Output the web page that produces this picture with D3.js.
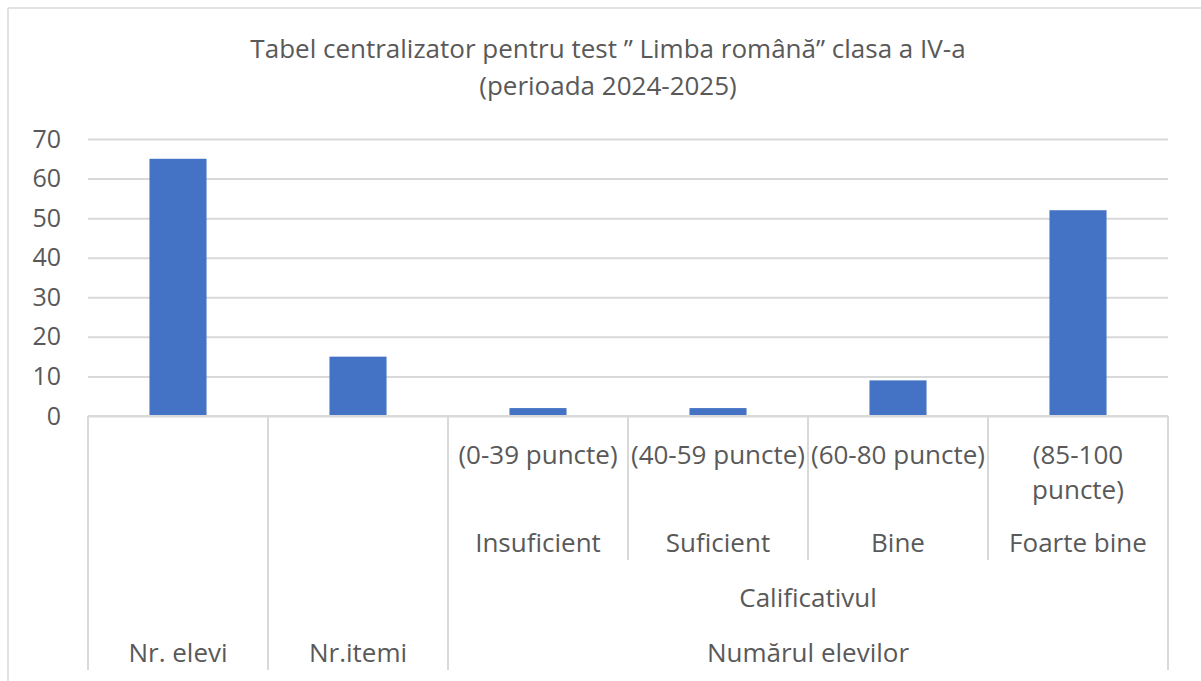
<!DOCTYPE html>
<html>
<head>
<meta charset="utf-8">
<script src="https://cdn.jsdelivr.net/npm/d3@7"></script>
<style>
  body { margin: 0; background: #fff; }
  svg text { font-family: "Open Sans", "Noto Sans", sans-serif; fill: #595959; }
</style>
</head>
<body>
<svg id="chart"></svg>
<script>
// date
let valori = [65, 15, 2, 2, 9, 52];
let puncte = ["", "", "(0-39 puncte)", "(40-59 puncte)", "(60-80 puncte)", "(85-100 puncte)"];
let calificative = ["", "", "Insuficient", "Suficient", "Bine", "Foarte bine"];
let grupCalificativ = ["Calificativul"];
let grupExterior = ["Nr. elevi", "Nr.itemi", "Numărul elevilor"];
let capeteExterior = [[0, 0], [1, 1], [2, 5]];
let yTicks = [0, 10, 20, 30, 40, 50, 60, 70];
let titlu = ["Tabel centralizator pentru test ” Limba română” clasa a IV-a", "(perioada 2024-2025)"];

let width = 1201;
let height = 681;
let plotLeft = 88, plotRight = 1168, plotTop = 139, plotBottom = 416;
let fs = 26;

let svg = d3.select("#chart")
    .attr("width", width)
    .attr("height", height);

// chenar
svg.append("line").attr("x1", 8).attr("x2", width).attr("y1", 8).attr("y2", 8)
    .attr("stroke", "#d9d9d9").attr("stroke-width", 1.5);
svg.append("line").attr("x1", 8).attr("x2", 8).attr("y1", 8).attr("y2", height)
    .attr("stroke", "#d9d9d9").attr("stroke-width", 1.5);

// titlu
svg.append("g").selectAll("text")
    .data(titlu)
    .enter().append("text")
    .attr("x", 608)
    .attr("y", (d, i) => 58 + i * 37)
    .attr("text-anchor", "middle")
    .attr("font-size", fs)
    .text(d => d);

let x = d3.scaleBand()
    .domain(d3.range(valori.length))
    .range([plotLeft, plotRight])
    .paddingInner(0.683)
    .paddingOuter(0.3415);

let y = d3.scaleLinear()
    .domain([0, 70])
    .range([plotBottom, plotTop]);

// grila
let yAxis = svg.append("g")
    .attr("transform", "translate(" + plotLeft + ",0)")
    .call(d3.axisLeft(y).tickValues(yTicks).tickSize(-(plotRight - plotLeft)).tickPadding(27));
yAxis.select(".domain").remove();
yAxis.selectAll(".tick line").attr("stroke", "#d9d9d9").attr("stroke-width", 2);
yAxis.selectAll(".tick text").attr("font-size", 25).attr("fill", "#595959")
    .style("font-family", "'Open Sans', sans-serif");

// bare
svg.append("g").selectAll("rect")
    .data(valori)
    .enter().append("rect")
    .attr("x", (d, i) => x(i))
    .attr("y", d => y(d))
    .attr("width", x.bandwidth())
    .attr("height", d => y(0) - y(d))
    .attr("fill", "#4472c4");

// axa x pe mai multe niveluri
let step = x.step();
let axa = svg.append("g");
axa.append("line").attr("x1", plotLeft).attr("x2", plotRight).attr("y1", plotBottom).attr("y2", plotBottom)
    .attr("stroke", "#d9d9d9").attr("stroke-width", 2);

// separatoare lungi
let lungi = [0].concat(capeteExterior.map(c => c[1] + 1));
axa.selectAll(".sepLung")
    .data(lungi)
    .enter().append("line")
    .attr("x1", d => plotLeft + d * step)
    .attr("x2", d => plotLeft + d * step)
    .attr("y1", plotBottom)
    .attr("y2", 670)
    .attr("stroke", "#d9d9d9").attr("stroke-width", 2);

// separatoare scurte intre calificative
let scurte = d3.range(3, 6);
axa.selectAll(".sepScurt")
    .data(scurte)
    .enter().append("line")
    .attr("x1", d => plotLeft + d * step)
    .attr("x2", d => plotLeft + d * step)
    .attr("y1", plotBottom)
    .attr("y2", 560)
    .attr("stroke", "#d9d9d9").attr("stroke-width", 2);

function wrap(sel, maxW, lineH) {
    sel.each(function () {
        let t = d3.select(this);
        let words = t.text().split(" ");
        let xx = t.attr("x");
        t.text(null);
        let line = [];
        let tspan = t.append("tspan").attr("x", xx).attr("dy", 0);
        words.forEach(w => {
            line.push(w);
            tspan.text(line.join(" "));
            if (tspan.node().getComputedTextLength() > maxW && line.length > 1) {
                line.pop();
                tspan.text(line.join(" "));
                line = [w];
                tspan = t.append("tspan").attr("x", xx).attr("dy", lineH).text(w);
            }
        });
    });
}

axa.selectAll(".puncte")
    .data(puncte)
    .enter().append("text")
    .attr("x", (d, i) => x(i) + x.bandwidth() / 2)
    .attr("y", 464)
    .attr("text-anchor", "middle")
    .attr("font-size", fs)
    .text(d => d)
    .call(wrap, step - 2, 35);

axa.selectAll(".calif")
    .data(calificative)
    .enter().append("text")
    .attr("x", (d, i) => x(i) + x.bandwidth() / 2)
    .attr("y", 552)
    .attr("text-anchor", "middle")
    .attr("font-size", fs)
    .text(d => d);

axa.selectAll(".grupCalif")
    .data(grupCalificativ)
    .enter().append("text")
    .attr("x", plotLeft + 4 * step)
    .attr("y", 607)
    .attr("text-anchor", "middle")
    .attr("font-size", fs)
    .text(d => d);

axa.selectAll(".grupExt")
    .data(grupExterior)
    .enter().append("text")
    .attr("x", (d, i) => plotLeft + (capeteExterior[i][0] + capeteExterior[i][1] + 1) / 2 * step)
    .attr("y", 662)
    .attr("text-anchor", "middle")
    .attr("font-size", fs)
    .text(d => d);
</script>
</body>
</html>
